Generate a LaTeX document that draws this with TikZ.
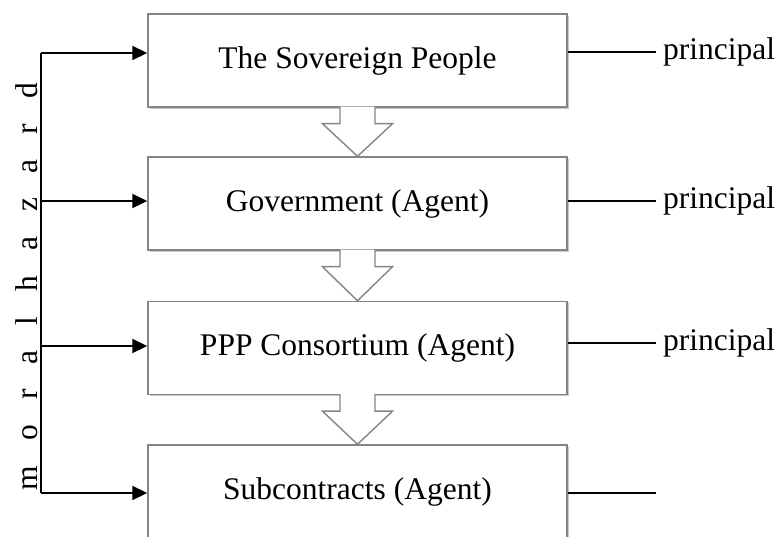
\documentclass[tikz,border=0pt]{standalone}
\usepackage{fontspec}
\setmainfont{Liberation Serif}
\usetikzlibrary{calc,shadows,arrows.meta}
\definecolor{boxgrey}{HTML}{858585}
\tikzset{
  stagebox/.style={draw=boxgrey, line width=1.4pt, fill=white,
    minimum width=419pt, minimum height=93pt, inner sep=0pt,
    font=\fontsize{31.5}{36}\selectfont,
    drop shadow={shadow xshift=1.8pt, shadow yshift=-1.8pt, fill=black, opacity=0.22}},
  blockarrow/.style={draw=boxgrey, line width=1.4pt, fill=white, line join=miter},
  link/.style={line width=2pt, -{Triangle[length=15pt,width=14pt]}},
  plainline/.style={line width=1.8pt},
  lbl/.style={font=\fontsize{31.5}{36}\selectfont, inner sep=0pt}
}
\begin{document}
\begin{tikzpicture}[x=1pt,y=-1pt]
\clip (0,0) rectangle (777,537);
\fill[white] (0,0) rectangle (777,537);
% boxes
\node[stagebox] (b1) at (357.5,60.5) {The Sovereign People};
\node[stagebox] (b2) at (357.5,203.5) {Government (Agent)};
\node[stagebox] (b3) at (357.5,348) {PPP Consortium (Agent)};
\node[stagebox] (b4) at (357.5,491.5) {Subcontracts (Agent)};
% block arrows
\foreach \u/\v in {b1/b2,b2/b3,b3/b4}{
  \draw[blockarrow] ($(\u.south)+(-17.5,-1)$) -- ($(\u.south)+(-17.5,16)$) -- ($(\u.south)+(-35,16)$)
    -- (\v.north) -- ($(\u.south)+(35,16)$) -- ($(\u.south)+(17.5,16)$) -- ($(\u.south)+(17.5,-1)$);
}
% left connectors
\coordinate (l1) at (41,53);
\coordinate (l2) at (41,201);
\coordinate (l3) at (41,346);
\coordinate (l4) at (41,493);
\draw[line width=2pt] (l1) -- (l4);
\draw[link] (l1) -- (l1 -| b1.west);
\draw[link] (l2) -- (l2 -| b2.west);
\draw[link] (l3) -- (l3 -| b3.west);
\draw[link] (l4) -- (l4 -| b4.west);
\node[lbl, rotate=90] (mh) at (27,286.5) {\spaceskip=25pt m o r a l h a z a r d};
% right connectors
\coordinate (r1) at (656,52);
\coordinate (r2) at (656,201);
\coordinate (r3) at (656,343);
\coordinate (r4) at (656,493);
\draw[plainline] (r1 -| b1.east) -- (r1);
\draw[plainline] (r2 -| b2.east) -- (r2);
\draw[plainline] (r3 -| b3.east) -- (r3);
\draw[plainline] (r4 -| b4.east) -- (r4);
\node[lbl, anchor=west] (p1) at ($(r1)+(7,0)$) {principal};
\node[lbl, anchor=west] (p2) at ($(r2)+(7,0)$) {principal};
\node[lbl, anchor=west] (p3) at ($(r3)+(7,0)$) {principal};
\end{tikzpicture}
\end{document}
